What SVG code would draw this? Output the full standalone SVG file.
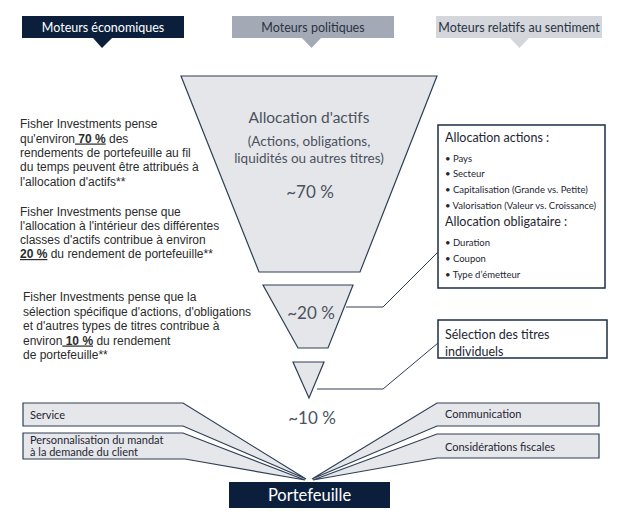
<svg xmlns="http://www.w3.org/2000/svg" width="624" height="514" viewBox="0 0 624 514">
<defs>
<style>
.tab{font-family:Lato,"Open Sans",sans-serif;font-size:12.5px;text-anchor:middle}
.para{font-family:"Liberation Sans",Arial,sans-serif;font-size:12px;fill:#2b2b2b}
.b{font-weight:bold;text-decoration:underline}
.fun{fill:#e5e6e9;stroke:#2f3f56;stroke-width:1.2}
.ft{font-family:Lato,"Open Sans",sans-serif;fill:#4a5260;text-anchor:middle}
.box{fill:#ffffff;stroke:#1d2c47;stroke-width:1.5}
.bh{font-family:Lato,"Open Sans",sans-serif;font-size:12.5px;fill:#1e2633}
.bl{font-family:Lato,"Open Sans",sans-serif;font-size:9.5px;fill:#1e2633}
.wedge{fill:#e6e7ea;stroke:#2f3f56;stroke-width:1.2;stroke-linejoin:miter}
.wt{font-family:Lato,"Open Sans",sans-serif;font-size:11px;fill:#1e2633}
.conn{fill:none;stroke:#2f3f56;stroke-width:1}
</style>
</defs>
<rect width="624" height="514" fill="#ffffff"/>

<g id="tab-economiques">
<rect x="22" y="16" width="162" height="22" fill="#0b1f3d"/>
<polygon points="93,38 112,38 102,48" fill="#0b1f3d"/>
<text class="tab" x="103" y="31.5" fill="#ffffff">Moteurs économiques</text>
</g>
<g id="tab-politiques">
<rect x="232" y="16" width="162" height="22" fill="#a3aab5"/>
<polygon points="302,38 321,38 311.5,48" fill="#a3aab5"/>
<text class="tab" x="313" y="31.5" fill="#2a3344">Moteurs politiques</text>
</g>
<g id="tab-sentiment">
<rect x="436" y="16" width="166" height="22" fill="#d3d6db"/>
<polygon points="510,38 529,38 519.5,48" fill="#d3d6db"/>
<text class="tab" x="519" y="31.5" fill="#2a3344">Moteurs relatifs au sentiment</text>
</g>

<g id="text-70">
<text class="para" x="20" y="128">Fisher Investments pense</text>
<text class="para" x="20" y="142.5">qu'environ<tspan class="b"> 70 %</tspan> des</text>
<text class="para" x="20" y="157">rendements de portefeuille au fil</text>
<text class="para" x="20" y="171">du temps peuvent être attribués à</text>
<text class="para" x="20" y="185.5">l'allocation d'actifs**</text>
</g>
<g id="text-20">
<text class="para" x="20" y="215.5">Fisher Investments pense que</text>
<text class="para" x="20" y="229.5">l'allocation à l'intérieur des différentes</text>
<text class="para" x="20" y="244">classes d'actifs contribue à environ</text>
<text class="para" x="20" y="258"><tspan class="b">20 %</tspan> du rendement de portefeuille**</text>
</g>
<g id="text-10">
<text class="para" x="23" y="301">Fisher Investments pense que la</text>
<text class="para" x="23" y="315.5">sélection spécifique d'actions, d'obligations</text>
<text class="para" x="23" y="330">et d'autres types de titres contribue à</text>
<text class="para" x="23" y="344.5">environ<tspan class="b"> 10 %</tspan> du rendement</text>
<text class="para" x="23" y="359">de portefeuille**</text>
</g>

<g id="funnel-allocation">
<polygon class="fun" points="181,76 437,76 360,272 259,272"/>
<text class="ft" x="309" y="123" font-size="15.5">Allocation d'actifs</text>
<text class="ft" x="309" y="146" font-size="13.5">(Actions, obligations,</text>
<text class="ft" x="309" y="163" font-size="13.5">liquidités ou autres titres)</text>
<text class="ft" x="310" y="198" font-size="17">~70 %</text>
</g>
<g id="funnel-20">
<polygon class="fun" points="263,285 353,285 328,348 298,348"/>
<text class="ft" x="311" y="319" font-size="17">~20 %</text>
</g>
<g id="funnel-10">
<polygon class="fun" points="293,362 324,362 309,398"/>
</g>
<g id="label-10">
<text class="ft" x="312" y="424" font-size="17">~10 %</text>
</g>

<g id="box-allocation">
<rect class="box" x="438" y="125" width="167" height="163"/>
<text class="bh" x="445" y="142">Allocation actions :</text>
<text class="bl" x="445" y="162">• Pays</text>
<text class="bl" x="445" y="177">• Secteur</text>
<text class="bl" x="445" y="193">• Capitalisation (Grande vs. Petite)</text>
<text class="bl" x="445" y="208.5">• Valorisation (Valeur vs. Croissance)</text>
<text class="bh" x="445" y="226">Allocation obligataire :</text>
<text class="bl" x="445" y="246">• Duration</text>
<text class="bl" x="445" y="262">• Coupon</text>
<text class="bl" x="445" y="278">• Type d’émetteur</text>
</g>
<g id="box-selection">
<rect class="box" x="438" y="320" width="169" height="38"/>
<text class="bh" x="445" y="339">Sélection des titres</text>
<text class="bh" x="445" y="356">individuels</text>
</g>

<g id="connectors">
<polyline class="conn" points="346,307 383,307 438,252"/>
<polyline class="conn" points="317,389 383,389 438,343"/>
</g>

<g id="wedge-service">
<polygon class="wedge" points="23,403 183,403 306,479 183,426 23,426"/>
<text class="wt" x="30" y="419">Service</text>
</g>
<g id="wedge-personnalisation">
<polygon class="wedge" points="23,433 183,433 305,480 185,459 23,459"/>
<text class="wt" x="30" y="443.5">Personnalisation du mandat</text>
<text class="wt" x="30" y="455.5">à la demande du client</text>
</g>
<g id="wedge-communication">
<polygon class="wedge" points="599,403 437,403 312,479 437,426 599,426"/>
<text class="wt" x="445" y="418">Communication</text>
</g>
<g id="wedge-fiscales">
<polygon class="wedge" points="599,434 437,434 313,480 437,458 599,458"/>
<text class="wt" x="445" y="451">Considérations fiscales</text>
</g>

<g id="portefeuille">
<rect x="229" y="482" width="161" height="26" fill="#0b1f3d"/>
<text x="309.5" y="500.5" font-family="Lato,'Open Sans',sans-serif" font-size="16.5" fill="#ffffff" text-anchor="middle">Portefeuille</text>
</g>
</svg>
